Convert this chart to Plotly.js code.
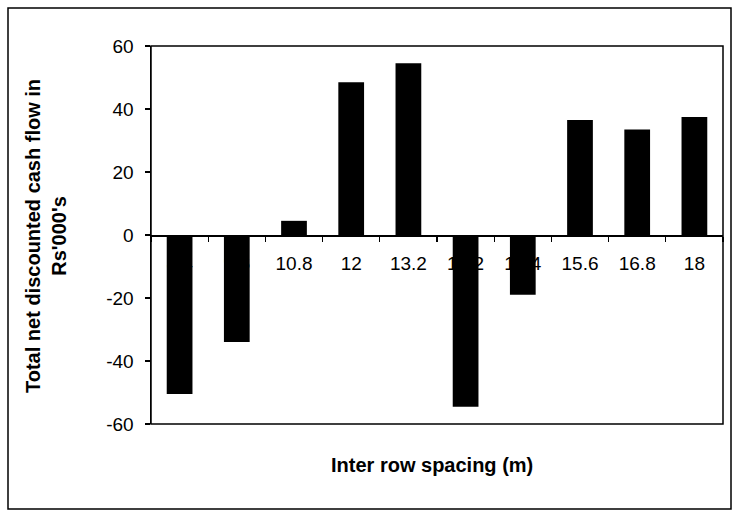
<!DOCTYPE html>
<html>
<head>
<meta charset="utf-8">
<script src="https://cdn.plot.ly/plotly-3.0.1.min.js"></script>
<style>html,body{margin:0;padding:0;background:#fff;}#chart{width:733px;height:511px;}</style>
</head>
<body>
<div id="chart"></div>
<script>
// Data
const spacingLabels = ["8.4", "9.6", "10.8", "12", "13.2", "14.2", "14.4", "15.6", "16.8", "18"];
const cashFlow = [-50.5, -34, 4.5, 48.5, 54.5, -54.5, -19, 36.5, 33.5, 37.5];
const yTickValues = [-60, -40, -20, 0, 20, 40, 60];
const xTitle = "Inter row spacing (m)";
const yTitle = "Total net discounted cash flow in<br>Rs'000's";

const W = 733, H = 511;
const M = {l: 151, r: 10, t: 46, b: 87};
const pw = W - M.l - M.r, ph = H - M.t - M.b;
// outer frame in pixels
const fx0 = 8, fx1 = 731, fy0 = 8, fy1 = 509;
const px = x => (x - M.l) / pw;
const py = y => (H - M.b - y) / ph;

const font = "Liberation Sans, Arial, Helvetica, sans-serif";

const trace = {
  type: 'bar',
  x: spacingLabels,
  y: cashFlow,
  marker: {color: '#000', line: {width: 0}},
  hoverinfo: 'x+y'
};

const layout = {
  width: W, height: H,
  margin: M,
  paper_bgcolor: '#fff', plot_bgcolor: '#fff',
  showlegend: false,
  bargap: 0.55,
  font: {family: font, color: '#000'},
  xaxis: {
    type: 'category',
    anchor: 'free', position: 0.5,
    showline: true, linecolor: '#000', linewidth: 1.5,
    ticks: 'outside', tickson: 'boundaries', ticklen: 5, tickcolor: '#000', tickwidth: 1.2,
    showgrid: false, zeroline: false,
    layer: 'below traces',
    ticklabelstandoff: 11,
    tickfont: {size: 19, family: font, color: '#000'},
    fixedrange: true
  },
  yaxis: {
    range: [-60, 60],
    tickvals: yTickValues,
    ticktext: yTickValues.map(String),
    showline: true, linecolor: '#000', linewidth: 1.5,
    ticks: 'outside', ticklen: 5, tickcolor: '#000', tickwidth: 1.2,
    showgrid: false, zeroline: false,
    tickfont: {size: 19, family: font, color: '#000'},
    ticklabelstandoff: 7,
    fixedrange: true
  },
  shapes: [
    {type: 'rect', xref: 'paper', yref: 'paper', x0: 0, x1: 1, y0: 0, y1: 1,
     line: {color: '#000', width: 1.5}, layer: 'above'},
    {type: 'rect', xref: 'paper', yref: 'paper', x0: px(fx0), x1: px(fx1), y0: py(fy1), y1: py(fy0),
     line: {color: '#000', width: 1.5}, layer: 'below'}
  ],
  annotations: [
    {text: '<b>' + xTitle + '</b>', xref: 'paper', yref: 'paper', x: px(432), y: py(465),
     xanchor: 'center', yanchor: 'middle', showarrow: false, font: {size: 20, family: font, color: '#000'}},
    {text: '<b>' + yTitle + '</b>', xref: 'paper', yref: 'paper', x: px(46), y: py(236),
     xanchor: 'center', yanchor: 'middle', showarrow: false, textangle: -90,
     font: {size: 20, family: font, color: '#000'}}
  ]
};

Plotly.newPlot('chart', [trace], layout, {displayModeBar: false, staticPlot: true});
</script>
</body>
</html>
